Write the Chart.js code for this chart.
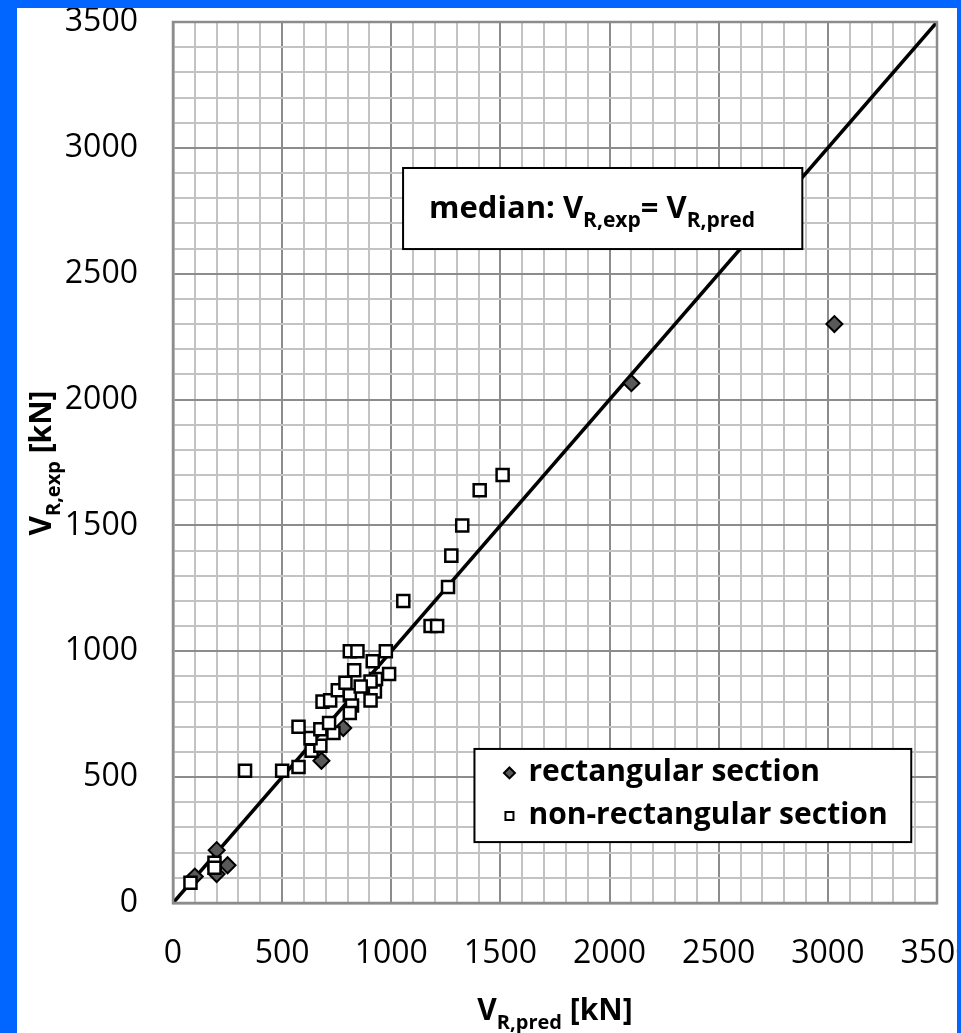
<!DOCTYPE html>
<html>
<head>
<meta charset="utf-8">
<script src="https://cdn.jsdelivr.net/npm/chart.js@4.4.0/dist/chart.umd.min.js"></script>
<style>
  html, body { margin: 0; padding: 0; overflow: hidden; background: #fff; }
  #wrap { position: absolute; left: 0; top: 0; width: 1000px; height: 1033px; }
  .blue { position: absolute; background: #0066ff; }
</style>
</head>
<body>
<div id="wrap"><canvas id="chart"></canvas></div>
<div class="blue" style="left:0;top:0;width:17px;height:1033px"></div>
<div class="blue" style="left:0;top:0;width:961px;height:8px"></div>
<div class="blue" style="left:957px;top:0;width:4px;height:1033px"></div>
<script>
// rectangular section (diamonds)
const rectX = [100, 200, 200, 250, 680, 780, 2100, 3030];
const rectY = [105, 210, 115, 150, 565, 695, 2065, 2300];

// non-rectangular section (squares)
const nonRectX = [80, 190, 190, 330, 500, 575, 635, 675, 630, 575, 675, 735, 715, 685, 720, 755, 790, 810,
  820, 810, 830, 810, 845, 915, 975, 990, 930, 925, 905, 905, 860, 1180, 1210, 1055, 1260, 1275, 1325, 1405, 1510];
const nonRectY = [80, 160, 140, 525, 525, 540, 605, 625, 655, 700, 690, 675, 715, 800, 805, 845, 875, 825,
  785, 755, 925, 1000, 1000, 960, 1000, 910, 890, 840, 805, 880, 860, 1100, 1100, 1200, 1255, 1380, 1500, 1640, 1700];

// median line V_R,exp = V_R,pred
const medianX = [0, 3500];
const medianY = [0, 3500];

const axisMin = 0;
const axisMax = 3500;
const labelStep = 500;
const gridStep = 100;

const FONT = '"Open Sans", "Liberation Sans", sans-serif';
const MAJOR = '#8c8c8c';
const MINOR = '#c3c3c3';

function pts(xs, ys) {
  return xs.map((x, i) => ({ x: x, y: ys[i] }));
}

// draws text with subscripts, returns end x
function drawRich(ctx, parts, x, y, size) {
  parts.forEach(p => {
    const s = p.sub ? Math.round(size * 0.68) : size;
    ctx.font = 'bold ' + s + 'px ' + FONT;
    ctx.fillText(p.t, x, y + (p.sub ? size * 0.3 : 0));
    x += ctx.measureText(p.t).width;
  });
  return x;
}
function richWidth(ctx, parts, size) {
  let w = 0;
  parts.forEach(p => {
    const s = p.sub ? Math.round(size * 0.68) : size;
    ctx.font = 'bold ' + s + 'px ' + FONT;
    w += ctx.measureText(p.t).width;
  });
  return w;
}

function drawMarker(ctx, style, x, y, r, fill) {
  ctx.beginPath();
  if (style === 'rectRot') {
    ctx.moveTo(x, y - r); ctx.lineTo(x + r, y); ctx.lineTo(x, y + r); ctx.lineTo(x - r, y);
  } else {
    ctx.rect(x - r, y - r, 2 * r, 2 * r);
  }
  ctx.closePath();
  ctx.fillStyle = fill;
  ctx.fill();
  ctx.lineWidth = 2;
  ctx.strokeStyle = '#000';
  ctx.stroke();
}

const decor = {
  id: 'decor',
  afterDatasetsDraw(chart) {
    const ctx = chart.ctx;
    const a = chart.chartArea;
    const sx = chart.scales.x, sy = chart.scales.y;
    ctx.save();

    // plot border
    ctx.strokeStyle = MAJOR;
    ctx.lineWidth = 2.5;
    ctx.strokeRect(a.left, a.top, a.right - a.left, a.bottom - a.top);

    // median label box
    let x0 = sx.getPixelForValue(1054), x1 = sx.getPixelForValue(2883);
    let y0 = sy.getPixelForValue(2920), y1 = sy.getPixelForValue(2598);
    ctx.fillStyle = '#fff';
    ctx.fillRect(x0, y0, x1 - x0, y1 - y0);
    ctx.strokeStyle = '#000';
    ctx.lineWidth = 2;
    ctx.strokeRect(x0, y0, x1 - x0, y1 - y0);
    ctx.fillStyle = '#000';
    ctx.textBaseline = 'alphabetic';
    ctx.textAlign = 'left';
    drawRich(ctx, [{ t: 'median: V' }, { t: 'R,exp', sub: true }, { t: '= V' }, { t: 'R,pred', sub: true }],
      x0 + 26, y0 + 50, 31);

    // legend box
    x0 = sx.getPixelForValue(1381); x1 = sx.getPixelForValue(3382);
    y0 = sy.getPixelForValue(612); y1 = sy.getPixelForValue(242);
    ctx.fillStyle = '#fff';
    ctx.fillRect(x0, y0, x1 - x0, y1 - y0);
    ctx.strokeStyle = '#000';
    ctx.lineWidth = 2;
    ctx.strokeRect(x0, y0, x1 - x0, y1 - y0);
    const items = chart.data.datasets.filter(d => d.label).reverse();
    items.forEach((d, i) => {
      const cy = y0 + 24 + i * 43;
      drawMarker(ctx, d.pointStyle, x0 + 35, cy, d.pointStyle === 'rectRot' ? 5.5 : 4, d.backgroundColor);
      ctx.fillStyle = '#000';
      ctx.font = 'bold 30px ' + FONT;
      ctx.textBaseline = 'middle';
      ctx.fillText(d.label, x0 + 54, cy);
    });

    // axis titles
    ctx.fillStyle = '#000';
    ctx.textBaseline = 'alphabetic';
    const xt = [{ t: 'V' }, { t: 'R,pred', sub: true }, { t: ' [kN]' }];
    const xw = richWidth(ctx, xt, 30);
    drawRich(ctx, xt, (a.left + a.right) / 2 - xw / 2, 1020, 30);

    const yt = [{ t: 'V' }, { t: 'R,exp', sub: true }, { t: ' [kN]' }];
    const yw = richWidth(ctx, yt, 30);
    ctx.translate(51, 463);
    ctx.rotate(-Math.PI / 2);
    drawRich(ctx, yt, -yw / 2, 0, 30);
    ctx.restore();
  }
};

function gridColor(c) {
  return c.tick && c.tick.value % labelStep === 0 ? MAJOR : MINOR;
}

const chartCanvas = document.getElementById('chart').getContext('2d');
const chart = new Chart(chartCanvas, {
  type: 'scatter',
  data: {
    datasets: [
      {
        label: 'non-rectangular section',
        data: pts(nonRectX, nonRectY),
        pointStyle: 'rect',
        pointRadius: 8.5,
        backgroundColor: '#ffffff',
        borderColor: '#000000',
        borderWidth: 2.5,
        order: 0
      },
      {
        label: 'rectangular section',
        data: pts(rectX, rectY),
        pointStyle: 'rectRot',
        pointRadius: 8,
        backgroundColor: '#595959',
        borderColor: '#000000',
        borderWidth: 2,
        order: 1
      },
      {
        label: '',
        data: pts(medianX, medianY),
        showLine: true,
        pointRadius: 0,
        borderColor: '#000000',
        borderWidth: 3.5,
        order: 2
      }
    ]
  },
  options: {
    responsive: true,
    maintainAspectRatio: false,
    animation: false,
    layout: { padding: { left: 0, top: 22, right: 63, bottom: 0 } },
    plugins: {
      legend: { display: false },
      tooltip: { enabled: false }
    },
    scales: {
      x: {
        type: 'linear',
        min: axisMin,
        max: axisMax,
        afterFit: s => { s.height = 130; },
        ticks: {
          stepSize: gridStep,
          autoSkip: false,
          maxRotation: 0,
          padding: 2,
          color: '#000',
          font: { family: FONT, size: 32 },
          callback: v => (v % labelStep === 0 ? String(v) : '')
        },
        grid: { color: gridColor, lineWidth: 2, drawTicks: true, tickLength: 30, tickColor: 'rgba(0,0,0,0)' },
        border: { display: true, color: MAJOR, width: 2.5 }
      },
      y: {
        type: 'linear',
        min: axisMin,
        max: axisMax,
        afterFit: s => { s.width = 173; },
        ticks: {
          stepSize: gridStep,
          autoSkip: false,
          padding: 2,
          color: '#000',
          font: { family: FONT, size: 32 },
          callback: v => (v % labelStep === 0 ? String(v) : '')
        },
        grid: { color: gridColor, lineWidth: 2, drawTicks: true, tickLength: 33, tickColor: 'rgba(0,0,0,0)' },
        border: { display: true, color: MAJOR, width: 2.5 }
      }
    }
  },
  plugins: [decor]
});
</script>
</body>
</html>
